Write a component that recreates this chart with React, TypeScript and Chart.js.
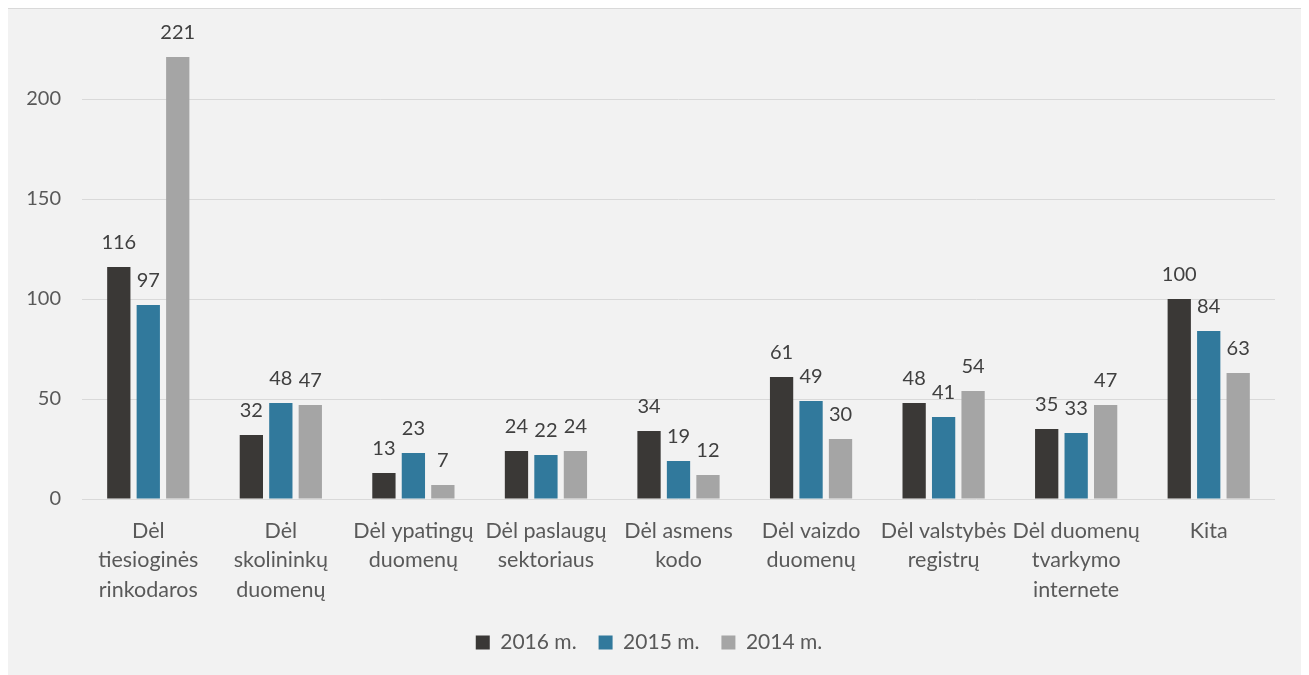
import React, { useEffect, useRef } from "react";
import { Chart, registerables } from "chart.js";

Chart.register(...registerables);

const categories: string[][] = [
  ["Dėl", "tiesioginės", "rinkodaros"],
  ["Dėl", "skolininkų", "duomenų"],
  ["Dėl ypatingų", "duomenų"],
  ["Dėl paslaugų", "sektoriaus"],
  ["Dėl asmens", "kodo"],
  ["Dėl vaizdo", "duomenų"],
  ["Dėl valstybės", "registrų"],
  ["Dėl duomenų", "tvarkymo", "internete"],
  ["Kita"],
];

const seriesNames = ["2016 m.", "2015 m.", "2014 m."];
const values2016 = [116, 32, 13, 24, 34, 61, 48, 35, 100];
const values2015 = [97, 48, 23, 22, 19, 49, 41, 33, 84];
const values2014 = [221, 47, 7, 24, 12, 30, 54, 47, 63];
const seriesColors = ["#3a3836", "#31799c", "#a5a5a5"];
const yTicks = [0, 50, 100, 150, 200];

const FONT = "Lato";

const valueLabels = {
  id: "valueLabels",
  afterDatasetsDraw(chart: any) {
    const ctx = chart.ctx;
    ctx.save();
    ctx.font = `20px ${FONT}`;
    ctx.fillStyle = "#404040";
    ctx.textAlign = "center";
    ctx.textBaseline = "alphabetic";
    chart.data.datasets.forEach((ds: any, i: number) => {
      const meta = chart.getDatasetMeta(i);
      meta.data.forEach((el: any, j: number) => {
        ctx.fillText(String(ds.data[j]), el.x, el.y - 18);
      });
    });
    ctx.restore();
  },
};

export default function App() {
  const canvasRef = useRef<HTMLCanvasElement | null>(null);

  useEffect(() => {
    document.body.style.overflow = "hidden";
    if (!canvasRef.current) return;
    const chart = new Chart(canvasRef.current, {
      type: "bar",
      data: {
        labels: categories,
        datasets: [values2016, values2015, values2014].map((d, i) => ({
          label: seriesNames[i],
          data: d,
          backgroundColor: seriesColors[i],
          borderWidth: 0,
          categoryPercentage: 0.667,
          barPercentage: 0.79,
        })),
      },
      options: {
        animation: false,
        responsive: true,
        maintainAspectRatio: false,
        layout: { padding: { left: 15, right: 29, top: 9, bottom: 12 } },
        plugins: {
          tooltip: { enabled: false },
          legend: {
            position: "bottom",
            labels: {
              boxWidth: 14,
              boxHeight: 14,
              padding: 22,
              color: "#595959",
              font: { family: FONT, size: 21 },
            },
          },
        },
        scales: {
          x: {
            grid: { display: false, drawTicks: false },
            border: { display: false },
            ticks: {
              color: "#595959",
              padding: 17,
              maxRotation: 0,
              autoSkip: false,
              font: { family: FONT, size: 21.5, lineHeight: 1.372 },
            },
            afterFit: (s: any) => {
              s.height = 111;
            },
          },
          y: {
            min: 0,
            max: 228.5,
            grid: { color: "#d9d9d9", lineWidth: 1, drawTicks: false },
            border: { display: false },
            afterBuildTicks: (s: any) => {
              s.ticks = yTicks.map((v) => ({ value: v }));
            },
            ticks: {
              color: "#595959",
              padding: 21,
              font: { family: FONT, size: 20 },
            },
            afterFit: (s: any) => {
              s.width = 59;
            },
          },
        },
      },
      plugins: [valueLabels],
    });
    return () => chart.destroy();
  }, []);

  return (
    <div
      style={{
        width: 1298,
        height: 690,
        boxSizing: "border-box",
        border: "1px solid #d9d9d9",
        background: "#f2f2f2",
        marginLeft: -1,
      }}
    >
      <div style={{ position: "relative", width: 1296, height: 666 }}>
        <canvas ref={canvasRef} />
      </div>
    </div>
  );
}
